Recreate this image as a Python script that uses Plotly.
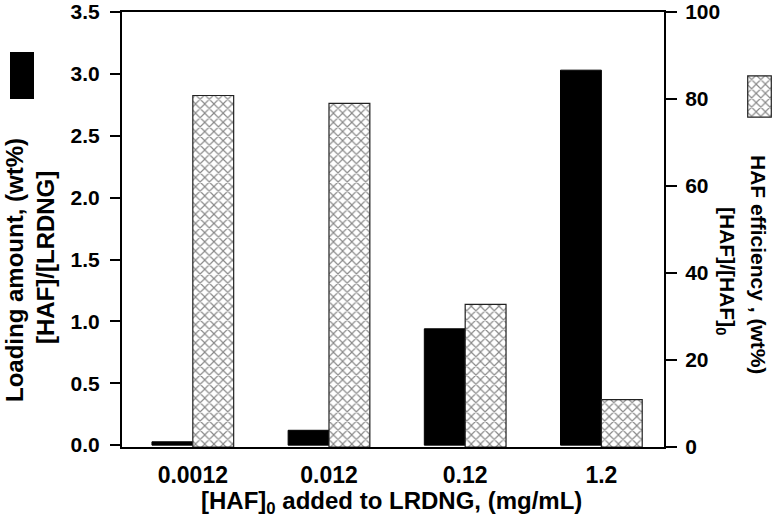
import plotly.graph_objects as go

categories = ["0.0012", "0.012", "0.12", "1.2"]
loading_amount = [0.027, 0.12, 0.94, 3.03]      # left axis, wt%
haf_efficiency = [80.8, 79.0, 32.8, 10.9]       # right axis, wt%
left_ticks = [0.0, 0.5, 1.0, 1.5, 2.0, 2.5, 3.0, 3.5]
right_ticks = [0, 20, 40, 60, 80, 100]

W, H = 772, 523
PL, PR, PT, PB = 122, 664, 12, 447  # plot area in px


def px_x(x):
    return x / W


def px_y(y):
    return (H - y) / H


FAM = "Liberation Sans, Arial, sans-serif"
TICKFONT = dict(family=FAM, size=21, color="black", weight="bold")
XTITLE = dict(family=FAM, size=24, color="black", weight="bold")
LTITLE = dict(family=FAM, size=24, color="black", weight="bold")
RTITLE = dict(family=FAM, size=21, color="black", weight="bold")
HATCH = dict(shape="x", size=6.5, solidity=0.32, fgcolor="#111", bgcolor="white", fillmode="overlay")

fig = go.Figure()

fig.add_trace(go.Bar(
    x=categories, y=loading_amount, name="Loading amount",
    marker=dict(color="black", line=dict(color="black", width=1)),
    width=0.3, offset=-0.3, xaxis="x", yaxis="y",
))
fig.add_trace(go.Bar(
    x=categories, y=haf_efficiency, name="HAF efficiency",
    marker=dict(color="white", line=dict(color="#222", width=1.2), pattern=HATCH),
    width=0.3, offset=0.0, xaxis="x", yaxis="y2",
))
# hatched legend swatch
fig.add_trace(go.Bar(
    x=[0], y=[1], width=1, showlegend=False, hoverinfo="skip",
    marker=dict(color="white", line=dict(color="#222", width=1.2), pattern=HATCH),
    xaxis="x3", yaxis="y3",
))

axis_common = dict(showline=True, linecolor="black", linewidth=2, showgrid=False,
                   zeroline=False, tickfont=TICKFONT, automargin=False,
                   ticklabeloverflow="allow")

fig.update_layout(
    width=W, height=H,
    margin=dict(l=0, r=0, t=0, b=0),
    paper_bgcolor="white", plot_bgcolor="white",
    showlegend=False,
    barmode="overlay",
    xaxis=dict(axis_common, type="category", domain=[px_x(PL), px_x(PR)],
               range=[-0.52, 3.46], mirror=True, ticks="outside", ticklen=6,
               tickcolor="rgba(0,0,0,0)", anchor="y", tickfont=dict(TICKFONT, size=23)),
    yaxis=dict(axis_common, domain=[px_y(PB), px_y(PT)], range=[-0.015, 3.5],
               tickvals=left_ticks, ticktext=[f"{v:.1f}" for v in left_ticks],
               ticks="outside", ticklen=10, tickwidth=2, tickcolor="black",
               ticklabelstandoff=6, anchor="x"),
    yaxis2=dict(axis_common, domain=[px_y(PB), px_y(PT)], range=[0, 100],
                overlaying="y", side="right", anchor="x",
                tickvals=right_ticks, ticks="outside", ticklen=11, tickwidth=2,
                tickcolor="black", ticklabelstandoff=4),
    xaxis3=dict(domain=[px_x(747), px_x(772)], range=[-0.53, 0.53], visible=False,
                anchor="y3", fixedrange=True),
    yaxis3=dict(domain=[px_y(118), px_y(75)], range=[-0.02, 1.02], visible=False,
                anchor="x3", fixedrange=True),
    shapes=[
        dict(type="rect", xref="paper", yref="paper",
             x0=px_x(10), x1=px_x(34), y0=px_y(99), y1=px_y(52),
             fillcolor="black", line=dict(color="black", width=0)),
    ],
    annotations=[
        dict(text="Loading amount, (wt%)", x=px_x(14), y=px_y(270), xref="paper", yref="paper",
             textangle=-90, showarrow=False, font=LTITLE, xanchor="center", yanchor="middle"),
        dict(text="[HAF]/[LRDNG]", x=px_x(45), y=px_y(258), xref="paper", yref="paper",
             textangle=-90, showarrow=False, font=LTITLE, xanchor="center", yanchor="middle"),
        dict(text="HAF efficiency , (wt%)", x=px_x(759), y=px_y(264), xref="paper", yref="paper",
             textangle=90, showarrow=False, font=RTITLE, xanchor="center", yanchor="middle"),
        dict(text="[HAF]/[HAF]<sub>0</sub>", x=px_x(726), y=px_y(271), xref="paper", yref="paper",
             textangle=90, showarrow=False, font=RTITLE, xanchor="center", yanchor="middle"),
        dict(text="[HAF]<sub>0</sub> added to LRDNG, (mg/mL)", x=px_x(391), y=px_y(502),
             xref="paper", yref="paper", showarrow=False, font=XTITLE,
             xanchor="center", yanchor="middle"),
    ],
)

fig.write_html("out.html", config={"displayModeBar": False},
               post_script="document.body.style.margin='0px';")
